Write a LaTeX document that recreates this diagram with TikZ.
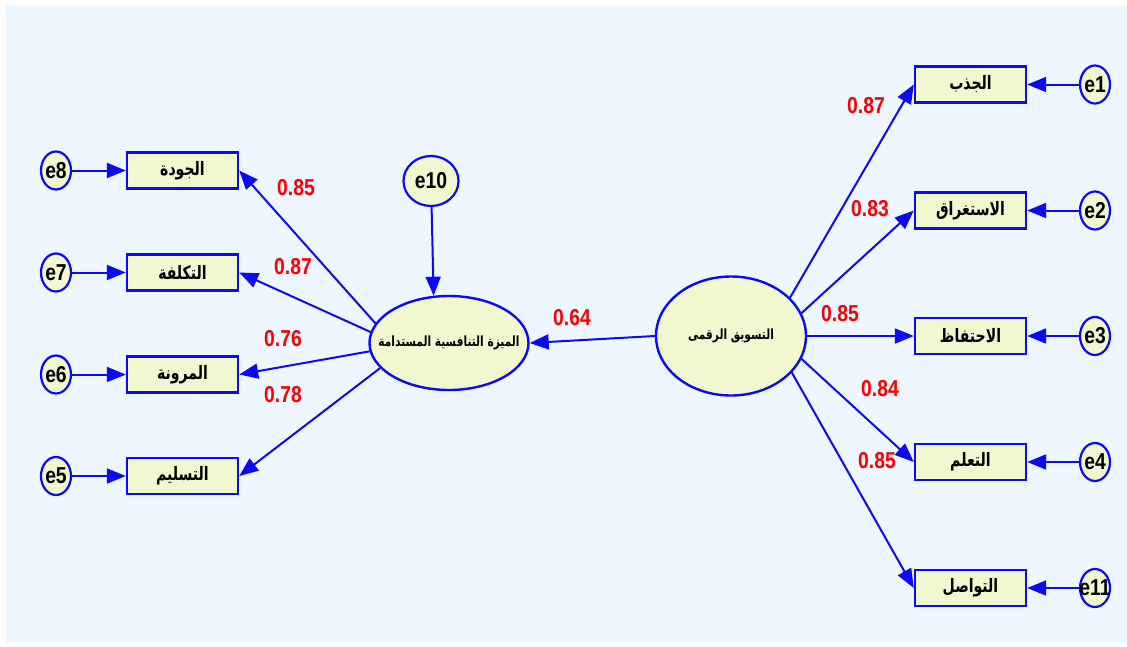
\documentclass[tikz,border=0pt]{standalone}
\usepackage{fontspec}
\setmainfont{Liberation Sans}
\newfontfamily\narrowfont[FakeStretch=0.84]{Liberation Sans}
\newfontfamily\arabicfont[Script=Arabic,FakeStretch=0.76]{DejaVu Sans}
\usetikzlibrary{arrows.meta,shapes.geometric}
\TeXXeTstate=1
\definecolor{bgc}{RGB}{238,246,255}
\definecolor{fillc}{RGB}{241,247,206}
\definecolor{bluec}{RGB}{10,10,245}
\definecolor{redc}{RGB}{250,0,0}
\tikzset{
  obs/.style={draw=bluec, line width=2.4pt, fill=fillc, minimum width=111pt, minimum height=36pt, inner sep=0pt,
     font=\arabicfont\bfseries\fontsize{18.5}{18.5}\selectfont},
  err/.style={ellipse, draw=bluec, line width=2.2pt, fill=fillc, minimum width=30pt, minimum height=38pt, inner sep=0pt,
     font=\narrowfont\bfseries\fontsize{23}{23}\selectfont},
  lat/.style={ellipse, draw=bluec, line width=2.4pt, fill=fillc, inner sep=0pt,
     font=\arabicfont\bfseries\fontsize{14}{14}\selectfont},
  conn/.style={draw=bluec, line width=2pt, -{Triangle[length=19pt,width=15pt]}},
  coef/.style={text=redc, font=\narrowfont\bfseries\fontsize{23}{23}\selectfont, inner sep=0pt}
}
\newcommand{\ar}[1]{\beginR #1\endR}
\begin{document}
\begin{tikzpicture}[x=1pt,y=-1pt]
\useasboundingbox (0,0) rectangle (1127,646);
\fill[bgc] (6,5) rectangle (1127,643);
% latent variables
\node[lat, minimum width=159pt, minimum height=94pt] (le) at (449,343) {\makebox[0pt]{\ar{الميزة التنافسية المستدامة}}};
\node[lat, minimum width=150pt, minimum height=119pt] (re) at (731,336) {\makebox[0pt]{\ar{التسويق الرقمى}}};
\node[err, minimum width=55pt, minimum height=50pt] (e10) at (431,181) {\makebox[0pt]{e10}};
% left boxes
\node[obs] (b8) at (182.5,170.5) {\ar{الجودة}};
\node[obs] (b7) at (182.5,272.5) {\ar{التكلفة}};
\node[obs] (b6) at (182.5,374.5) {\ar{المرونة}};
\node[obs] (b5) at (182.5,476) {\ar{التسليم}};
\node[err] (e8) at (56,170.5) {\makebox[0pt]{e8}};
\node[err] (e7) at (56,272.5) {\makebox[0pt]{e7}};
\node[err] (e6) at (56,374.5) {\makebox[0pt]{e6}};
\node[err] (e5) at (56,476) {\makebox[0pt]{e5}};
% right boxes
\node[obs] (b1) at (970.5,84.5) {\ar{الجذب}};
\node[obs] (b2) at (970.5,210.5) {\ar{الاستغراق}};
\node[obs] (b3) at (970.5,336) {\ar{الاحتفاظ}};
\node[obs] (b4) at (970.5,462) {\ar{التعلم}};
\node[obs] (b11) at (970.5,588) {\ar{التواصل}};
\node[err] (e1) at (1095,84.5) {\makebox[0pt]{e1}};
\node[err] (e2) at (1095,210.5) {\makebox[0pt]{e2}};
\node[err] (e3) at (1095,336) {\makebox[0pt]{e3}};
\node[err] (e4) at (1095,462) {\makebox[0pt]{e4}};
\node[err] (e11) at (1095,588) {\makebox[0pt]{e11}};
% connectors
\draw[conn] (e8) -- (b8);
\draw[conn] (e7) -- (b7);
\draw[conn] (e6) -- (b6);
\draw[conn] (e5) -- (b5);
\draw[conn] (e1) -- (b1);
\draw[conn] (e2) -- (b2);
\draw[conn] (e3) -- (b3);
\draw[conn] (e4) -- (b4);
\draw[conn] (e11) -- (b11);
\draw[conn] (e10) -- (le.108);
\draw[conn] (re.west) -- (le.east);
\draw[conn] (le.165) -- (b8.east);
\draw[conn] (le.172) -- (b7.east);
\draw[conn] (le.186) -- (b6.east);
\draw[conn] (le.200) -- (b5.east);
\draw[conn] (re.33) -- (b1.west);
\draw[conn] (re.18) -- (b2.west);
\draw[conn] (re.east) -- (b3.west);
\draw[conn] (re.-18) -- (b4.west);
\draw[conn] (re.-31) -- (b11.west);
% coefficients
\node[coef] (c8) at (296,188) {0.85};
\node[coef] (c7) at (293,267) {0.87};
\node[coef] (c6) at (283,339) {0.76};
\node[coef] (c5) at (283,395) {0.78};
\node[coef] (c0) at (572,318) {0.64};
\node[coef] (c1) at (866,106) {0.87};
\node[coef] (c2) at (870,209) {0.83};
\node[coef] (c3) at (840,314) {0.85};
\node[coef] (c4) at (880,389) {0.84};
\node[coef] (c11) at (877,461) {0.85};
\end{tikzpicture}
\end{document}
